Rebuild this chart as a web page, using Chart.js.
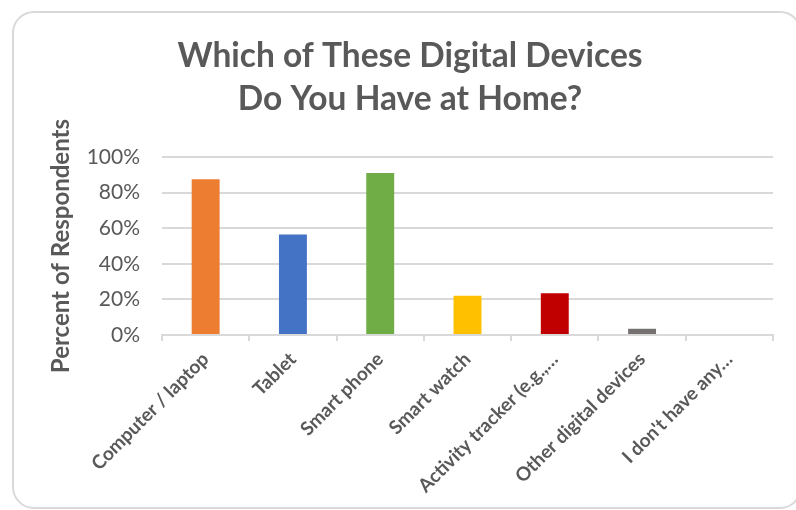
<!DOCTYPE html>
<html>
<head>
<meta charset="utf-8">
<script src="https://cdn.jsdelivr.net/npm/chart.js@4"></script>
<style>
  html, body { margin: 0; padding: 0; background: #fff; }
  #wrap { position: relative; width: 796px; height: 510px; overflow: hidden; }
  #frame {
    position: absolute; left: 12px; top: 11px; width: 790px; height: 498px;
    border: 2px solid #d9d9d9; border-radius: 22px; box-sizing: border-box;
  }
  canvas { position: absolute; left: 0; top: 0; }
</style>
</head>
<body>
<div id="wrap">
  <div id="frame"></div>
  <canvas id="chart" width="796" height="510"></canvas>
</div>
<script>
// devices survey
const categories = [
    'Computer / laptop',
    'Tablet',
    'Smart phone',
    'Smart watch',
    'Activity tracker (e.g.,…',
    'Other digital devices',
    'I don\'t have any…'
];
const percentValues = [87.5, 56.5, 91, 22, 23.5, 3.5, 0.5];
const barColors = ['#ED7D31', '#4472C4', '#70AD47', '#FFC000', '#C00000', '#767171', '#CFCFDF'];
const yTicks = [0, 20, 40, 60, 80, 100];

const gray = '#595959';
const fontFamily = 'Lato, "Open Sans", sans-serif';

const ctx = document.getElementById('chart').getContext('2d');
new Chart(ctx, {
    type: 'bar',
    data: {
        labels: categories,
        datasets: [{
            data: percentValues,
            backgroundColor: barColors,
            categoryPercentage: 1,
            barPercentage: 0.32
        }]
    },
    options: {
        responsive: false,
        animation: false,
        // left padding also centres the title where the original has it
        layout: { padding: { left: 47, right: 23, top: 0, bottom: 0 } },
        plugins: {
            legend: { display: false },
            tooltip: { enabled: false },
            title: {
                display: true,
                text: ['Which of These Digital Devices', 'Do You Have at Home?'],
                color: gray,
                font: { family: fontFamily, size: 33.5, weight: 'bold', lineHeight: 1.3 },
                padding: { top: 34, bottom: 36 }
            }
        },
        scales: {
            x: {
                grid: {
                    offset: true,
                    drawOnChartArea: false,
                    drawTicks: true,
                    tickLength: 6,
                    color: '#d9d9d9',
                    lineWidth: 2
                },
                border: { color: '#d9d9d9', width: 2 },
                ticks: {
                    color: gray,
                    font: { family: fontFamily, size: 19, weight: 'bold' },
                    maxRotation: 45,
                    minRotation: 45,
                    padding: 7,
                    autoSkip: false
                },
                afterFit: s => { s.height = 175; }
            },
            y: {
                min: 0,
                max: 100,
                afterBuildTicks: s => { s.ticks = yTicks.map(v => ({ value: v })); },
                grid: { color: '#d9d9d9', lineWidth: 2, drawTicks: false },
                border: { display: false },
                ticks: {
                    color: gray,
                    font: { family: fontFamily, size: 21 },
                    padding: 22,
                    callback: v => v + '%'
                },
                title: {
                    display: true,
                    text: 'Percent of Respondents',
                    color: gray,
                    font: { family: fontFamily, size: 24, weight: 'bold' },
                    padding: { top: 0, bottom: 0 }
                },
                afterFit: s => { s.width = 115; }
            }
        }
    }
});
</script>
</body>
</html>
